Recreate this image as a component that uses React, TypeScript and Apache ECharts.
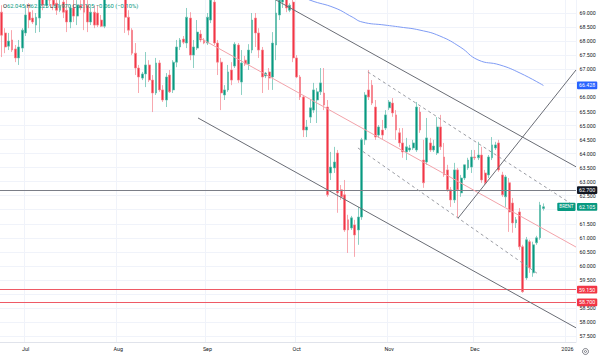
import React, { useEffect, useRef } from "react";
import * as echarts from "echarts";

// ---------- data ----------
const START_DATE = "2025-06-23"; // first bar; daily bars Sun-Fri
const CATEGORY_COUNT = 168;

const monthLabels: [string, string][] = [
  ["2025-07-01", "Jul"],
  ["2025-08-01", "Aug"],
  ["2025-09-01", "Sep"],
  ["2025-10-01", "Oct"],
  ["2025-11-02", "Nov"],
  ["2025-12-01", "Dec"],
  ["2026-01-01", "2026"],
];

const opens = [
  69.04, 68.30, 67.83, 68.05, 67.73, 67.41, 67.76, 68.30, 69.04, 68.83,
  68.58, 68.83, 69.54, 69.29, 69.65, 69.47, 69.36, 69.11, 69.40, 69.11,
  68.69, 69.19, 68.90, 69.29, 69.47, 69.29, 68.69, 69.04, 69.01, 68.76,
  68.54, 69.65, 71.70, 72.50, 73.10, 69.80, 69.65, 68.86, 68.40, 67.58,
  67.05, 66.69, 66.84, 67.16, 66.62, 66.16, 67.23, 66.27, 65.91, 66.80,
  66.27, 67.26, 67.80, 68.08, 67.94, 68.83, 67.51, 67.76, 68.26, 68.05,
  67.94, 68.76, 69.40, 67.94, 67.26, 66.09, 66.27, 66.98, 67.12, 67.87,
  66.55, 67.33, 67.19, 67.69, 68.83, 68.30, 67.69, 66.77, 66.91, 66.73,
  67.87, 68.94, 69.40, 69.75, 69.11, 69.40, 67.41, 66.73, 66.02, 64.84,
  65.30, 65.55, 65.91, 66.20, 66.16, 65.66, 63.31, 63.49, 64.02, 62.71,
  62.53, 61.64, 61.35, 61.46, 61.28, 61.74, 64.49, 66.27, 66.44, 65.66,
  64.66, 64.84, 64.91, 65.63, 65.80, 65.38, 64.74, 64.38, 64.06, 64.13,
  64.20, 64.13, 65.48, 63.77, 63.70, 64.38, 64.13, 64.02, 64.95, 63.88,
  63.42, 62.71, 62.35, 63.42, 62.60, 63.13, 63.49, 63.52, 63.88, 63.85,
  63.95, 63.31, 63.24, 63.85, 64.20, 64.38, 63.24, 62.46, 62.96, 62.24,
  61.53, 61.92, 60.68, 59.57, 60.86, 59.75, 60.82, 61.00, 62.045,
];
const highs = [
  69.29, 68.47, 68.30, 68.40, 67.87, 68.05, 68.47, 69.29, 69.36, 69.11,
  69.01, 69.65, 69.90, 69.83, 70.00, 69.75, 69.83, 69.47, 69.75, 69.54,
  69.29, 69.65, 69.47, 69.47, 69.65, 69.47, 69.19, 69.29, 69.29, 68.94,
  69.75, 71.90, 72.80, 73.50, 73.30, 70.00, 69.75, 69.11, 68.47, 67.94,
  67.16, 66.91, 67.62, 67.33, 66.80, 67.41, 67.33, 66.44, 66.87, 66.98,
  67.33, 68.05, 68.12, 68.19, 69.19, 69.04, 68.05, 68.76, 68.40, 68.12,
  69.01, 69.65, 69.58, 68.05, 67.41, 66.44, 67.16, 67.26, 67.97, 67.94,
  67.69, 67.48, 67.90, 69.01, 69.01, 68.47, 67.80, 66.91, 67.05, 68.33,
  69.47, 69.65, 69.90, 69.90, 69.36, 69.65, 67.51, 66.80, 66.09, 65.20,
  65.91, 66.52, 66.34, 67.05, 67.05, 65.91, 64.06, 64.24, 64.13, 62.88,
  63.06, 61.82, 61.78, 61.64, 62.10, 64.56, 66.19, 66.98, 66.62, 65.91,
  65.02, 65.20, 65.55, 65.91, 65.98, 65.55, 64.91, 64.91, 64.56, 64.31,
  64.49, 65.84, 65.66, 64.49, 65.27, 64.56, 64.49, 65.30, 65.38, 64.38,
  63.60, 62.81, 63.67, 63.49, 63.24, 63.60, 63.85, 64.13, 64.13, 64.42,
  64.24, 63.42, 63.95, 64.59, 64.42, 64.49, 63.35, 63.24, 63.13, 62.42,
  61.74, 62.06, 60.75, 61.03, 60.93, 60.86, 61.07, 62.28, 62.225,
];
const lows = [
  67.44, 67.58, 67.69, 67.62, 67.26, 67.16, 67.62, 68.19, 68.47, 68.62,
  68.30, 68.33, 69.11, 69.19, 69.26, 69.11, 68.94, 69.04, 68.83, 68.33,
  68.47, 68.69, 68.58, 69.11, 68.40, 68.33, 68.58, 68.47, 68.51, 68.51,
  68.47, 69.55, 71.30, 72.10, 69.60, 69.55, 68.30, 68.22, 67.51, 66.80,
  66.16, 66.62, 66.37, 66.55, 65.48, 66.09, 66.20, 65.84, 65.66, 66.16,
  66.16, 67.08, 67.69, 67.90, 67.76, 67.33, 67.05, 67.69, 67.97, 67.90,
  67.87, 68.65, 67.87, 66.80, 65.55, 65.91, 66.20, 66.44, 67.05, 66.52,
  66.09, 67.12, 66.98, 67.58, 67.80, 67.41, 66.16, 66.69, 66.27, 66.27,
  67.33, 68.76, 69.19, 69.04, 69.04, 67.26, 66.69, 65.91, 64.59, 64.59,
  65.09, 65.45, 65.09, 66.09, 65.55, 62.46, 63.06, 63.31, 61.89, 62.35,
  61.21, 60.46, 61.28, 60.32, 60.75, 61.64, 64.31, 65.91, 65.73, 64.49,
  64.56, 64.49, 64.84, 65.55, 65.31, 64.49, 64.24, 63.85, 63.77, 64.06,
  64.13, 64.06, 64.74, 62.78, 63.60, 64.06, 64.06, 63.95, 64.13, 63.17,
  62.64, 62.10, 62.24, 61.74, 62.46, 63.06, 63.42, 63.31, 63.77, 63.77,
  62.96, 62.88, 63.13, 63.77, 64.13, 63.35, 62.46, 62.10, 61.21, 61.18,
  61.35, 60.57, 59.04, 59.50, 59.75, 59.61, 60.75, 60.93, 61.970,
];
const closes = [
  68.22, 67.80, 68.01, 67.69, 67.41, 67.80, 68.40, 68.94, 68.76, 68.69,
  68.86, 69.54, 69.29, 69.65, 69.47, 69.29, 69.11, 69.29, 69.04, 68.69,
  69.19, 68.90, 69.29, 69.19, 69.04, 68.69, 69.04, 68.58, 68.58, 68.54,
  69.65, 71.70, 72.50, 73.10, 69.80, 69.70, 68.86, 68.40, 67.58, 67.05,
  66.73, 66.84, 67.16, 66.62, 66.16, 67.23, 66.27, 65.91, 66.73, 66.20,
  67.26, 67.80, 68.05, 67.97, 68.86, 67.51, 67.80, 68.33, 68.05, 67.94,
  68.86, 69.47, 67.94, 67.26, 66.16, 66.27, 66.91, 66.62, 67.90, 66.62,
  67.23, 67.19, 67.69, 68.76, 68.30, 67.69, 66.73, 66.87, 66.69, 67.94,
  69.01, 69.47, 69.75, 69.19, 69.29, 67.41, 66.73, 66.02, 64.84, 64.95,
  65.63, 66.27, 66.20, 66.52, 65.73, 62.53, 63.52, 63.70, 62.60, 62.46,
  61.28, 61.28, 61.71, 61.10, 61.74, 64.49, 66.09, 66.02, 65.80, 64.59,
  64.95, 64.66, 65.38, 65.84, 65.45, 64.84, 64.38, 64.06, 64.24, 64.20,
  64.38, 65.66, 64.84, 62.96, 64.56, 64.13, 64.27, 64.95, 64.24, 63.24,
  62.71, 62.35, 63.42, 62.71, 63.13, 63.60, 63.77, 63.88, 63.85, 63.95,
  63.06, 62.96, 63.88, 64.31, 64.31, 63.42, 62.53, 63.17, 61.92, 61.53,
  61.64, 60.68, 59.08, 60.93, 59.93, 60.75, 61.00, 62.165, 62.105,
];

// drawn lines: [bar index, price]
const maLine: [number, number][] = [
  [87.0, 69.65], [89.9, 69.47], [97.2, 69.19], [102.2, 68.87], [105.1, 68.69],
  [111.8, 68.58], [116.2, 68.51], [122.0, 68.40], [127.8, 68.19], [133.7, 67.80],
  [138.9, 67.34], [145.3, 67.16], [151.2, 66.87], [158.0, 66.428],
];
const channelUpper: [number, number][] = [[74.75, 69.83], [167.5, 63.53]];
const channelLower: [number, number][] = [[57.25, 65.27], [167.5, 57.79]];
const channelMid: [number, number][] = [[57.83, 68.12], [167.5, 60.67]];
const dashUpper: [number, number][] = [[106.8, 66.91], [165.75, 62.24]];
const dashLower: [number, number][] = [[103.9, 64.2], [156.1, 59.74]];
const riseLine: [number, number][] = [[133.1, 61.7], [167.5, 66.98]];

const resistanceLevel = 62.7;
const supportLevels = [59.15, 58.7];
const maLastValue = 66.428;
const symbolName = "BRENT";

const yTickMin = 57.5;
const yTickMax = 69.0;
const yTickStep = 0.5;
const yViewMin = 57.286;
const yViewMax = 69.474;
const hiddenTickLabels = [66.5, 62.0, 59.0];

// ---------- helpers ----------
function buildDates(): string[] {
  const out: string[] = [];
  const [y, m, d] = START_DATE.split("-").map(Number);
  const cur = new Date(Date.UTC(y, m - 1, d));
  while (out.length < CATEGORY_COUNT) {
    if (cur.getUTCDay() !== 6) out.push(cur.toISOString().slice(0, 10));
    cur.setUTCDate(cur.getUTCDate() + 1);
  }
  return out;
}

const FONT = "Roboto, 'Liberation Sans', Arial, sans-serif";
const UP = "#089981";
const DOWN = "#f23645";
const TEXT = "#131722";
const CLEAR = "rgba(0,0,0,0)";

export default function App() {
  const ref = useRef<HTMLDivElement>(null);

  useEffect(() => {
    if (!ref.current) return;
    const chart = echarts.init(ref.current, undefined, { renderer: "svg" });
    const dates = buildDates();
    const monthMap = new Map(monthLabels);
    const candles = opens.map((o, i) => [o, closes[i], lows[i], highs[i]]);

    const last = opens.length - 1;
    const chg = closes[last] - closes[last - 1];
    const sign = chg < 0 ? "\u2212" : "+";
    const pct = (Math.abs(chg) / closes[last - 1]) * 100;
    const f3 = (v: number) => v.toFixed(3);
    const header =
      `{l|O}{v|${f3(opens[last])}} {l|H}{v|${f3(highs[last])}} {l|L}{v|${f3(lows[last])}} {l|C}{v|${f3(closes[last])}} ` +
      `{v|${sign}${f3(Math.abs(chg))} (${sign}${pct.toFixed(2)}%)}`;

    const priceLabel = (bg: string, text: string) => ({
      show: true,
      position: "end",
      distance: 1,
      formatter: text,
      backgroundColor: bg,
      color: "#ffffff",
      opacity: 1,
      fontSize: 5.3,
      fontFamily: FONT,
      padding: [1.6, 2, 1.2, 2],
      borderRadius: 1,
    });

    const lineSeries = (data: [number, number][], color: string, type: any = "solid", smooth = false) => ({
      type: "line",
      xAxisIndex: 1,
      yAxisIndex: 0,
      data,
      symbol: "none",
      smooth,
      silent: true,
      clip: true,
      lineStyle: { color, width: 1, type },
      z: 5,
    });

    const option: any = {
      animation: false,
      backgroundColor: "#ffffff",
      textStyle: { fontFamily: FONT },
      title: {
        text: header,
        left: 3,
        top: 2.5,
        padding: 0,
        textStyle: {
          fontSize: 5.85,
          fontWeight: "normal",
          fontFamily: FONT,
          rich: {
            l: { color: TEXT, fontSize: 5.85, fontFamily: FONT },
            v: { color: UP, fontSize: 5.85, fontFamily: FONT },
          },
        },
      },
      grid: [
        { left: 0, right: 24, top: 0, bottom: 15 },
        { left: 0, right: 24, top: 13.3, bottom: 21 },
      ],
      xAxis: [
        {
          type: "category",
          gridIndex: 0,
          data: dates,
          boundaryGap: true,
          axisLine: { show: true, lineStyle: { color: "#e0e3eb", width: 1 } },
          axisTick: { show: false },
          axisLabel: {
            interval: (_i: number, v: string) => monthMap.has(v),
            formatter: (v: string) => monthMap.get(v) ?? "",
            color: TEXT,
            fontSize: 5.4,
            fontFamily: FONT,
            margin: 4,
          },
          splitLine: {
            show: true,
            interval: (_i: number, v: string) => monthMap.has(v),
            lineStyle: { color: "#f0f3fa", width: 1 },
          },
        },
        { type: "value", gridIndex: 0, min: -0.5, max: CATEGORY_COUNT - 0.5, show: false },
        { type: "value", gridIndex: 1, min: 0, max: 1, show: false },
      ],
      yAxis: [
        { type: "value", gridIndex: 0, min: yViewMin, max: yViewMax, show: false },
        {
          type: "value",
          gridIndex: 1,
          min: yTickMin,
          max: yTickMax,
          interval: yTickStep,
          position: "right",
          axisLine: { show: false },
          axisTick: { show: false },
          axisLabel: {
            margin: 3.5,
            color: TEXT,
            fontSize: 5.3,
            fontFamily: FONT,
            formatter: (v: number) =>
              hiddenTickLabels.some((h) => Math.abs(h - v) < 1e-6) ? "" : v.toFixed(3),
          },
          splitLine: { show: true, lineStyle: { color: "#f0f3fa", width: 1 } },
        },
      ],
      series: [
        {
          type: "candlestick",
          xAxisIndex: 0,
          yAxisIndex: 0,
          data: candles,
          barWidth: 2.3,
          clip: true,
          itemStyle: {
            color: UP,
            color0: DOWN,
            borderColor: "#5dbcaa",
            borderColor0: "#f5838c",
            borderWidth: 0.7,
          },
          markLine: {
            silent: true,
            symbol: ["none", "none"],
            animation: false,
            data: [
              { yAxis: maLastValue, lineStyle: { color: CLEAR, width: 0 }, label: priceLabel("#2962ff", f3(maLastValue)) },
              { yAxis: resistanceLevel, lineStyle: { color: "#7b7e87", width: 1, type: "solid" }, label: priceLabel(TEXT, f3(resistanceLevel)) },
              { yAxis: closes[last], lineStyle: { color: CLEAR, width: 0 }, label: priceLabel(UP, f3(closes[last])) },
              ...supportLevels.map((v) => ({
                yAxis: v,
                lineStyle: { color: "#ee5a66", width: 1, type: "solid" },
                label: priceLabel(DOWN, f3(v)),
              })),
            ],
          },
          z: 2,
        },
        lineSeries(maLine, "#7f9cf5", "solid", true),
        lineSeries(channelUpper, "#6a6d75"),
        lineSeries(channelLower, "#6a6d75"),
        lineSeries(channelMid, "#f3a3aa"),
        lineSeries(dashUpper, "#9a9ca3", [3, 3]),
        lineSeries(dashLower, "#9a9ca3", [3, 3]),
        {
          ...lineSeries(riseLine, "#6a6d75"),
          markPoint: {
            silent: true,
            symbol: "rect",
            symbolSize: 0,
            animation: false,
            data: [
              {
                coord: [164.7, closes[last]],
                label: {
                  show: true,
                  position: "inside",
                  formatter: symbolName,
                  backgroundColor: UP,
                  color: "#ffffff",
                  fontSize: 4.6,
                  fontFamily: FONT,
                  padding: [1.8, 2, 1.4, 2],
                  borderRadius: 1,
                },
              },
            ],
          },
        },
      ],
      graphic: [
        {
          type: "line",
          shape: { x1: 576.5, y1: 0, x2: 576.5, y2: 342 },
          style: { stroke: "#eceef2", lineWidth: 1 },
          silent: true,
        },
        {
          type: "group",
          left: 580,
          top: 346,
          children: [
            { type: "circle", shape: { cx: 3.5, cy: 3.5, r: 3 }, style: { fill: "none", stroke: "#50535e", lineWidth: 0.7 } },
            { type: "circle", shape: { cx: 3.5, cy: 3.5, r: 1.1 }, style: { fill: "none", stroke: "#50535e", lineWidth: 0.7 } },
          ],
          silent: true,
        },
      ],
    };

    chart.setOption(option);
    return () => chart.dispose();
  }, []);

  return (
    <div
      ref={ref}
      style={{ position: "absolute", left: 0, top: 0, width: 600, height: 357 }}
    />
  );
}
